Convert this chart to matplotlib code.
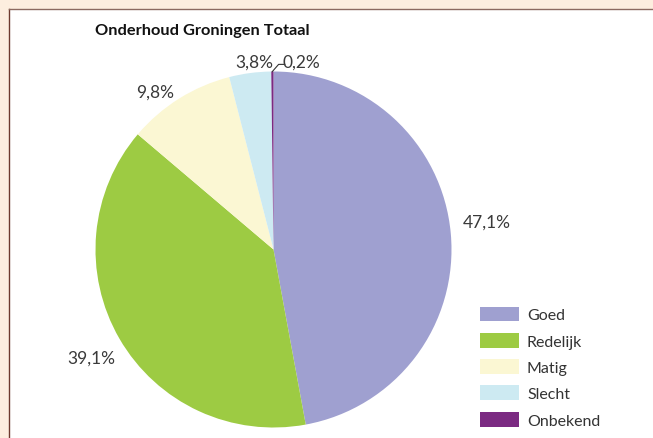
import numpy as np
import matplotlib
matplotlib.use("Agg")
import matplotlib.pyplot as plt
from matplotlib.patches import Rectangle
from matplotlib.lines import Line2D
from matplotlib.transforms import offset_copy

categories = ["Goed", "Redelijk", "Matig", "Slecht", "Onbekend"]
values = [47.1, 39.1, 9.8, 3.8, 0.2]
value_labels = ["47,1%", "39,1%", "9,8%", "3,8%", "0,2%"]
title = "Onderhoud Groningen Totaal"

colors = ["#9FA0D0", "#9DCB43", "#FBF7D3", "#CDEAF2", "#7B2A82"]
# label placement style: (radial distance, angle offset in degrees)
label_style = [(1.21, 2.7), (1.187, 0.2), (1.116, 4.6), (1.07, -1.7), (1.076, -8.7)]

W, H = 653, 439
plt.rcParams["font.family"] = ["Lato", "DejaVu Sans"]
fig = plt.figure(figsize=(W / 100, H / 100), dpi=100, facecolor="#FDEEDF")

# white panel with brown border (left/top)
x0, y0 = 8.5 / W, 1 - 9.5 / H
panel = Rectangle((x0, 0), 1 - x0, y0, transform=fig.transFigure,
                  facecolor="white", edgecolor="none", zorder=-10)
fig.patches.append(panel)
fig.lines.append(Line2D([x0, x0], [0, y0], transform=fig.transFigure,
                        color="#6E3A2E", lw=1.0, zorder=-9))
fig.lines.append(Line2D([x0, 1], [y0, y0], transform=fig.transFigure,
                        color="#8C6A60", lw=1.0, zorder=-9))

cx, cy, r = 273.5, 250.5, 178.0
ax = fig.add_axes([(cx - r) / W, (H - cy - r) / H, 2 * r / W, 2 * r / H])
ax.set_zorder(1)
ax.patch.set_visible(False)
wedges, _ = ax.pie(values, colors=colors, startangle=90, counterclock=False,
                   radius=1.0, wedgeprops=dict(linewidth=0))
ax.set_xlim(-1, 1)
ax.set_ylim(-1, 1)
ax.set_aspect("auto")
ax.axis("off")

txt_color = "#3A3A3A"
lab_tr = offset_copy(ax.transData, fig=fig, x=0, y=-1.5, units="dots")
for w, lab, (d, off) in zip(wedges, value_labels, label_style):
    mid = np.deg2rad((w.theta1 + w.theta2) / 2 + off)
    x, y = d * np.cos(mid), d * np.sin(mid)
    ax.text(x, y, lab, ha="center", va="center", fontsize=12.5,
            color=txt_color, clip_on=False, transform=lab_tr)

# leader line for the smallest slice
w = wedges[-1]
mid = np.deg2rad((w.theta1 + w.theta2) / 2)
p0 = (np.cos(mid), np.sin(mid))
ax.plot([p0[0], p0[0] + 0.035, p0[0] + 0.07], [p0[1], p0[1] + 0.04, p0[1] + 0.04],
        color="#333333", lw=0.8, clip_on=False)

fig.text(202 / W, 1 - 31.5 / H, title, ha="center", va="center",
         fontsize=11.8, fontweight="bold", color="#111111")

fs = 11.5
fs_px = fs * 100 / 72
leg = fig.legend(wedges, categories, loc="upper left",
                 bbox_to_anchor=(480 / W, 1 - 307.5 / H), frameon=False,
                 fontsize=fs, handlelength=39 / fs_px, handleheight=17 / fs_px,
                 handletextpad=8 / fs_px, labelspacing=0.65, borderpad=0,
                 borderaxespad=0)
for t in leg.get_texts():
    t.set_color("#333333")

fig.savefig("out.png", dpi=100, facecolor=fig.get_facecolor())
